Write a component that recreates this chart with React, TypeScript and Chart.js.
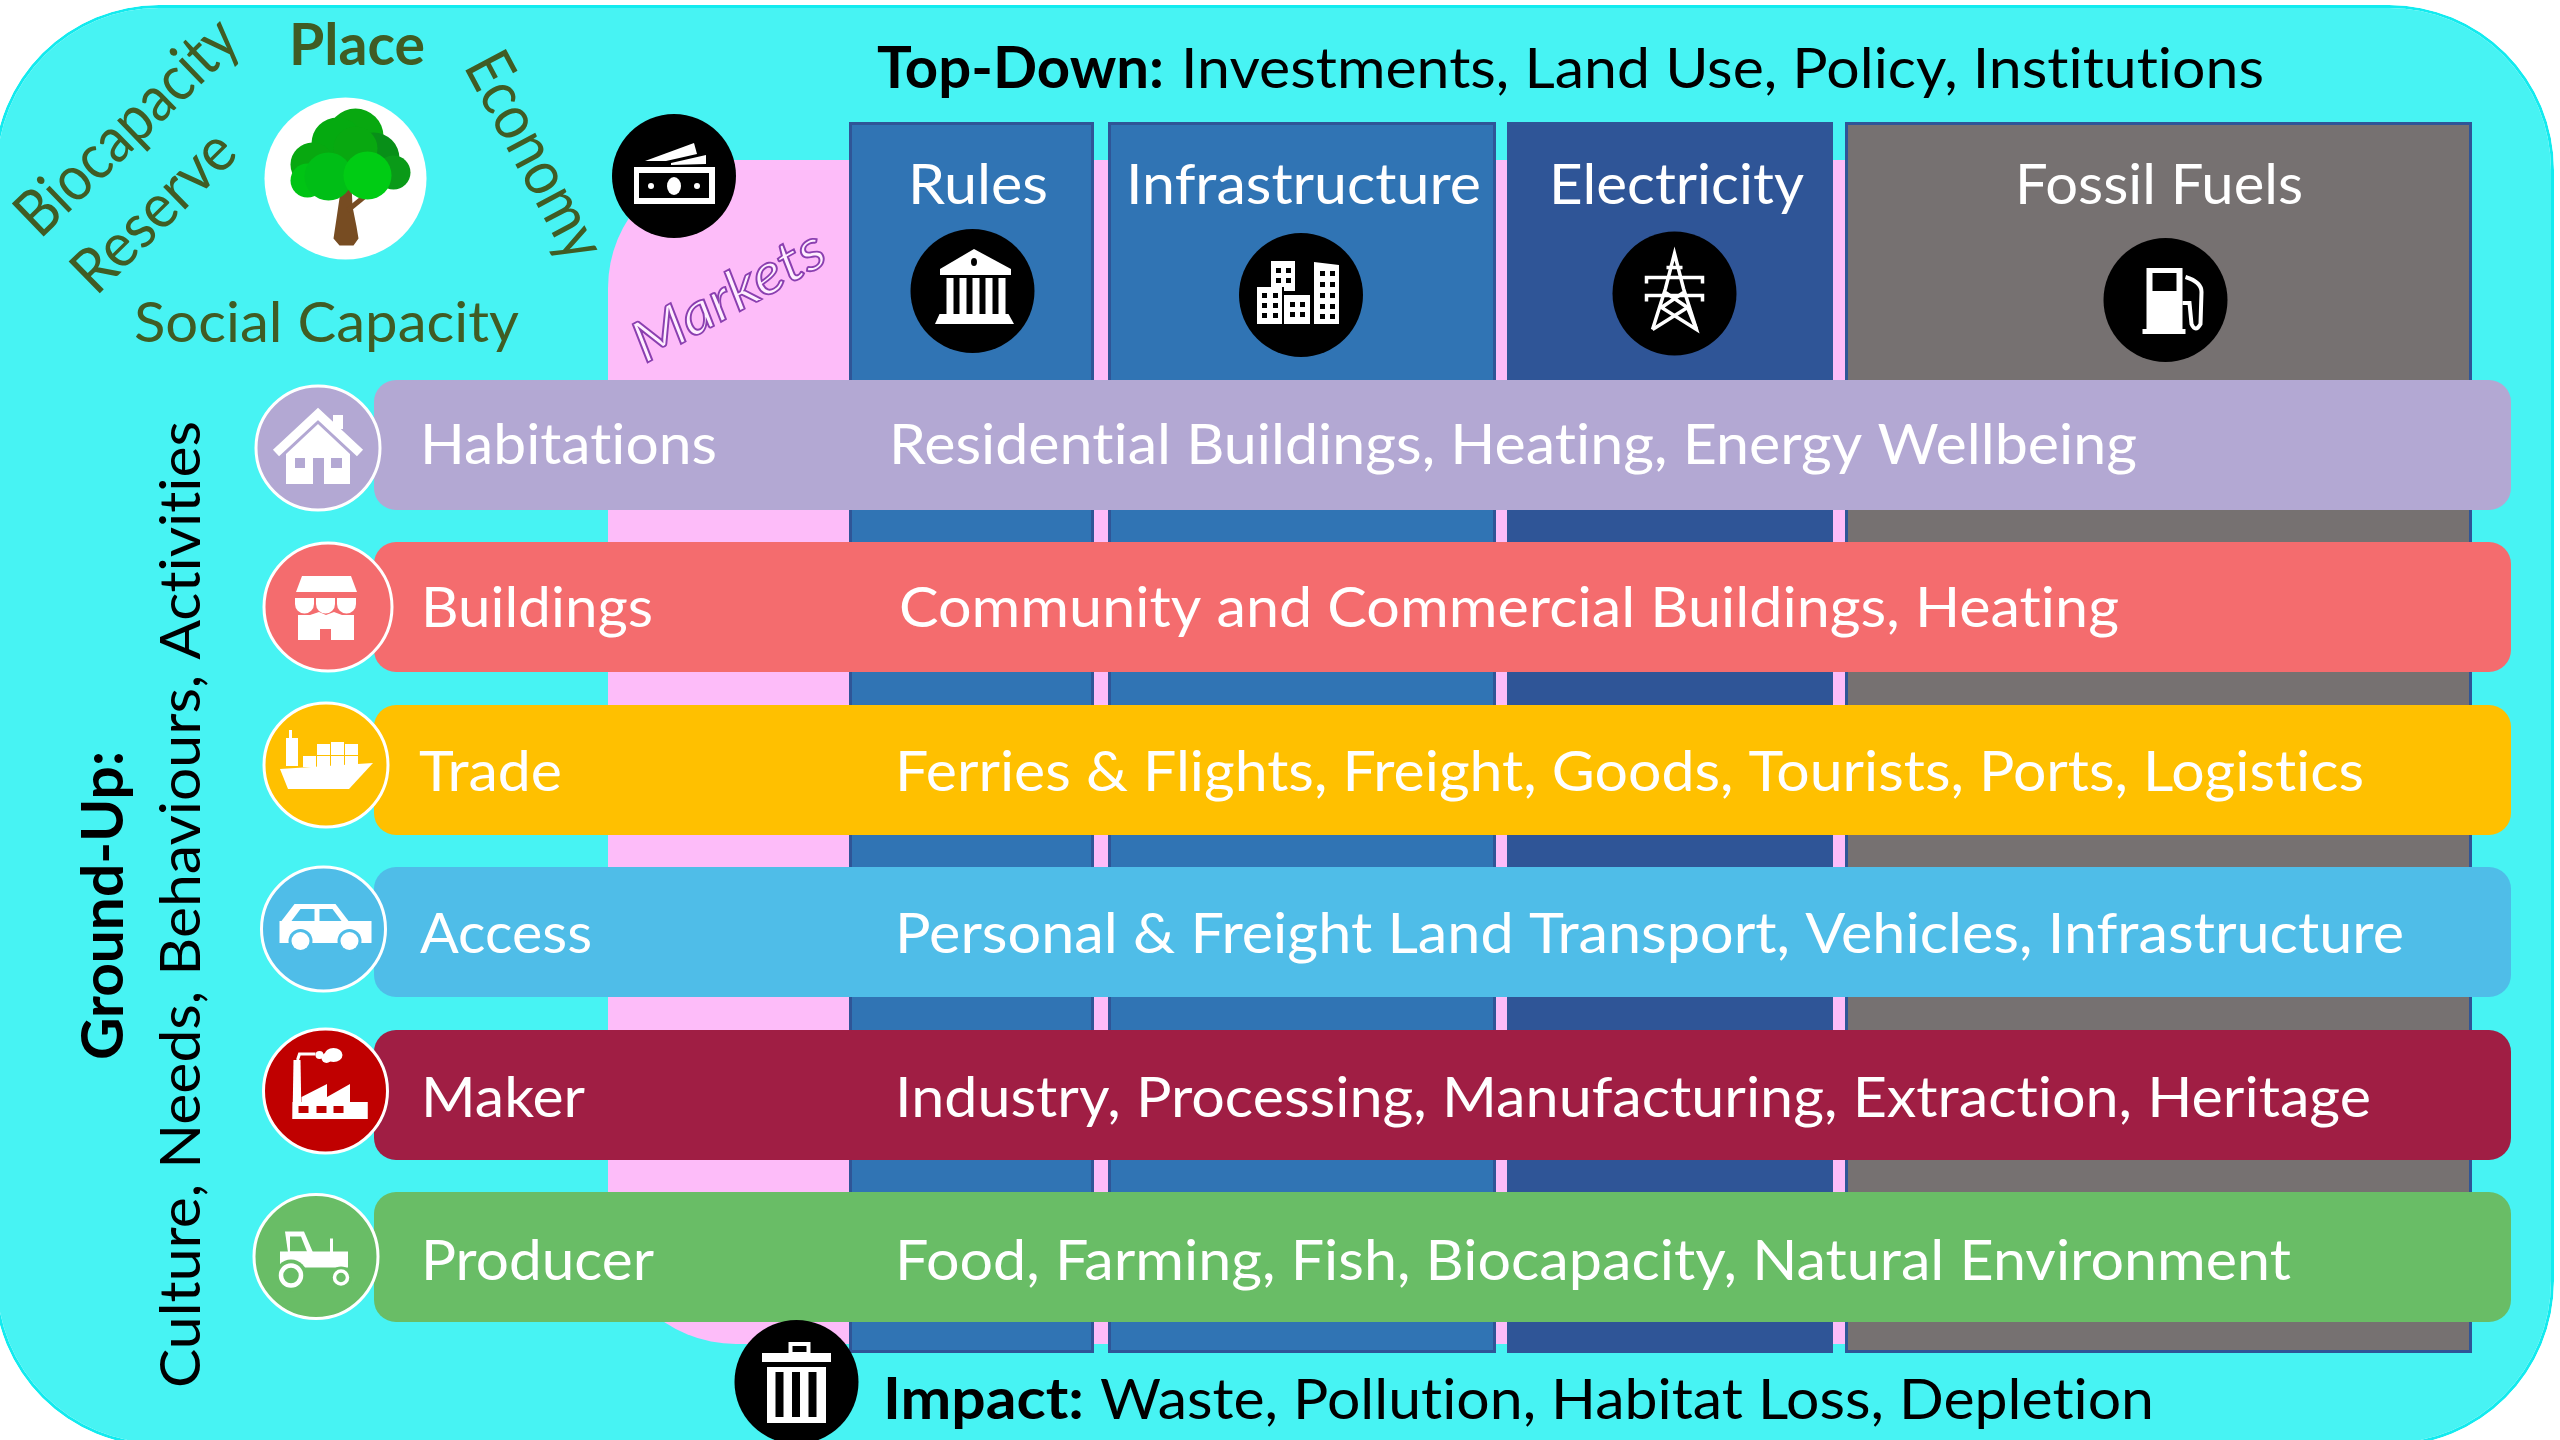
import React, { useEffect, useRef } from "react";
import { Chart, registerables } from "chart.js";

Chart.register(...registerables);

// ---- Data ----
const columnLabels = ["Rules", "Infrastructure", "Electricity", "Fossil Fuels"];
const columnStart = [849, 1108, 1507, 1845];
const columnEnd = [1094, 1496, 1833, 2472];
const columnTop = 122;
const columnBottom = 1353;

const rowLabels = ["Habitations", "Buildings", "Trade", "Access", "Maker", "Producer"];
const rowDescriptions = [
  "Residential Buildings, Heating, Energy Wellbeing",
  "Community and Commercial Buildings, Heating",
  "Ferries & Flights, Freight, Goods, Tourists, Ports, Logistics",
  "Personal & Freight Land Transport, Vehicles, Infrastructure",
  "Industry, Processing, Manufacturing, Extraction, Heritage",
  "Food, Farming, Fish, Biocapacity, Natural Environment",
];
const rowTop = [380, 542, 705, 867, 1030, 1192];
const rowBottom = [510, 672, 835, 997, 1160, 1322];
const rowStart = 374;
const rowEnd = 2511;

const panelRange = [-6, 2554];
const panelTop = 5;
const panelBottom = 1446;
const marketsRange = [608, 1845];
const marketsTop = 160;
const marketsBottom = 1344;

const rowCircleX = [318, 328, 326, 323.5, 325.5, 316];
const rowCircleY = [448, 607, 765, 929, 1091, 1256.5];
const rowCircleR = [62, 64, 62, 62, 62, 62];
const blackCircleNames = ["money", "bank", "city", "pylon", "pump", "trash"];
const blackCircleX = [674, 972.5, 1301, 1674.5, 2165.5, 796.5];
const blackCircleY = [176, 291, 295, 293.5, 300, 1382];
const blackCircleR = [62, 62, 62, 62, 62, 62];
const rowIconNames = ["house", "store", "ship", "car", "factory", "tractor"];
const placeCircle = { x: 345.5, y: 178.5, r: 81 };

// ---- Styles ----
const CYAN = "#47F3F3";
const CYAN_EDGE = "#12EBEF";
const PINK = "#FDBCF9";
const COLUMN_COLORS = ["#3074B4", "#3074B4", "#2F5597", "#767171"];
const ROW_COLORS = ["#B3A8D3", "#F46C6E", "#FFC000", "#4FBDE8", "#A01E44", "#69BD66"];
const CIRCLE_COLORS = ["#B3A8D3", "#F46C6E", "#FFC000", "#4FBDE8", "#C00000", "#69BD66"];
const GREEN_TEXT = "#405C24";
const SIZE = 56.5;

type C = CanvasRenderingContext2D;
type Pt = [number, number];

function poly(c: C, pts: Pt[], fill: string) {
  c.beginPath();
  pts.forEach(([x, y], i) => (i ? c.lineTo(x, y) : c.moveTo(x, y)));
  c.closePath();
  c.fillStyle = fill;
  c.fill();
}
function box(c: C, x: number, y: number, w: number, h: number, fill: string) {
  c.fillStyle = fill;
  c.fillRect(x, y, w, h);
}
function dot(c: C, x: number, y: number, r: number, fill: string, ry = r) {
  c.beginPath();
  c.ellipse(x, y, r, ry, 0, 0, Math.PI * 2);
  c.fillStyle = fill;
  c.fill();
}
function line(c: C, pts: Pt[], w: number, color: string) {
  c.beginPath();
  pts.forEach(([x, y], i) => (i ? c.lineTo(x, y) : c.moveTo(x, y)));
  c.lineWidth = w;
  c.strokeStyle = color;
  c.stroke();
}

const W = "#FFFFFF";
const K = "#000000";

const ICONS: Record<string, (c: C, bg: string) => void> = {
  money(c) {
    box(c, -40, -9, 81, 37, W);
    box(c, -35, -3, 70, 25, K);
    dot(c, 0, 10, 7, W, 9);
    dot(c, -23, 10, 3, W);
    dot(c, 23, 10, 3, W);
    poly(c, [[-29, -15], [20, -33], [23, -22], [-8, -15]], W);
    poly(c, [[-3, -13], [32, -21], [32, -12], [-3, -11]], W);
  },
  bank(c) {
    poly(c, [[1.5, -42], [38.5, -22], [38.5, -16], [-32.5, -16], [-32.5, -22]], W);
    dot(c, 1.5, -29, 3, K, 4);
    [-26, -13, 0, 13, 26].forEach((x) => box(c, x, -13, 7, 36, W));
    poly(c, [[-33, 23], [36, 23], [41.5, 33], [-37.5, 33]], W);
  },
  city(c) {
    poly(c, [[-30, -34], [-6, -34], [-6, -4], [-17, -4], [-17, -8], [-30, -8]], W);
    box(c, -44, -8, 25, 37, W);
    box(c, -17, 0, 26, 29, W);
    poly(c, [[13, -33], [38, -30], [38, 29], [13, 29]], W);
    [-25, -15].forEach((x) => [-27, -17].forEach((y) => box(c, x, y, 5, 5, K)));
    [-39, -28].forEach((x) => [-2, 8, 18].forEach((y) => box(c, x, y, 5, 5, K)));
    [-11, -1].forEach((x) => [7, 17].forEach((y) => box(c, x, y, 5, 5, K)));
    [19, 29].forEach((x) => [-24, -13, -2, 9, 19].forEach((y) => box(c, x, y, 5, 5, K)));
  },
  pylon(c) {
    const s = 3.5;
    line(c, [[-22, 36], [-9, -5], [0, -40], [9, -5], [22, 36], [-13, 14], [9, -1]], s, W);
    line(c, [[22, 36], [13, 14], [-9, -1]], s, W);
    line(c, [[-22, 36], [13, 14]], s, W);
    line(c, [[-28, -10], [-28, -16], [28, -16], [28, -10]], s, W);
    line(c, [[-28, 8], [-28, 2], [28, 2], [28, 8]], s, W);
    line(c, [[-8, -26], [8, -26]], s, W);
  },
  pump(c) {
    box(c, -19, -32, 36, 61, W);
    box(c, -13, -27, 24, 18, K);
    box(c, -23, 29, 43, 5, W);
    c.beginPath();
    c.moveTo(20, -23);
    c.quadraticCurveTo(36, -18, 36, -8);
    c.lineTo(35, 24);
    c.quadraticCurveTo(30, 33, 26, 24);
    c.lineTo(24, 3);
    c.lineTo(17, 3);
    c.lineWidth = 4;
    c.strokeStyle = W;
    c.stroke();
  },
  trash(c) {
    c.lineWidth = 4;
    c.strokeStyle = W;
    c.strokeRect(-6, -38, 18, 10);
    box(c, -34.5, -29, 69, 9, W);
    box(c, -29.5, -15, 59, 56, W);
    [-21, -4.5, 12].forEach((x) => box(c, x, -10, 8, 45, K));
  },
  house(c, bg) {
    c.lineJoin = "miter";
    box(c, 15, -33, 10, 14, W);
    line(c, [[-42, 5], [0, -34], [42, 5]], 9, W);
    poly(c, [[-32, 36], [-32, 6], [0, -24], [32, 6], [32, 36]], W);
    box(c, -23, 10, 10, 10, bg);
    box(c, 13, 10, 11, 10, bg);
    box(c, -5, 10, 11, 26, bg);
  },
  store(c, bg) {
    poly(c, [[-26, -31], [23, -31], [29, -15], [-32, -15]], W);
    [-33, -12, 9].forEach((x) => {
      c.beginPath();
      c.moveTo(x, -9);
      c.lineTo(x + 19, -9);
      c.lineTo(x + 19, -3);
      c.arc(x + 9.5, -3, 9.5, 0, Math.PI);
      c.closePath();
      c.fillStyle = W;
      c.fill();
    });
    poly(c, [[-30, 8], [-18, 8], [-9, 5], [-2, 8], [6, 5], [14, 8], [26, 8], [26, 33], [-30, 33]], W);
    box(c, -8, 22, 11, 11, bg);
  },
  ship(c) {
    poly(c, [[-46, 4], [47, -2], [23, 24], [-38, 24]], W);
    box(c, -40, -27, 12, 28, W);
    box(c, -37, -35, 3, 10, W);
    [-23, -9, 5, 19].forEach((x) => box(c, x, -9, 13, 11, W));
    [-9, 5, 19].forEach((x) => box(c, x, -21, 13, 11, W));
    box(c, 5, -23, 13, 12, W);
  },
  car(c, bg) {
    poly(c, [[-29, -25], [12, -25], [25, -8], [-42, -8]], W);
    poly(c, [[-23, -20], [-9, -20], [-9, -8], [-32, -8]], bg);
    poly(c, [[-4, -20], [9, -20], [18, -8], [-4, -8]], bg);
    box(c, -44, -8, 92, 22, W);
    [[-23, 12], [26, 12]].forEach(([x, y]) => {
      dot(c, x, y, 12, bg);
      dot(c, x, y, 9, W);
    });
  },
  factory(c, bg) {
    poly(c, [[-32, -31], [-25, -31], [-24, 28], [-33, 28]], W);
    poly(c, [[-24, 6], [1.5, -7], [1.5, 6], [24.5, -7], [24.5, 11], [42, 11], [42, 28], [-24, 28]], W);
    box(c, -33, 11, 75, 17, W);
    [-27, -9, 8].forEach((x) => box(c, x, 15, 10, 7, bg));
    dot(c, 8, -36, 9, W, 7);
    dot(c, 1, -33, 5, W);
    dot(c, -6, -36, 4, W);
    line(c, [[-28, -31], [-26, -37], [-10, -37]], 3, W);
  },
  tractor(c, bg) {
    poly(c, [[-31, -25], [-12, -25], [-3, -4], [-28, -4]], W);
    poly(c, [[-26, -20], [-15, -20], [-9, -5], [-26, -5]], bg);
    box(c, -36, -5, 68, 16, W);
    box(c, 14, -18, 3, 14, W);
    dot(c, -25, 19, 16, bg);
    dot(c, 25, 21, 11, bg);
    c.beginPath();
    c.arc(-25, 19, 10, 0, Math.PI * 2);
    c.lineWidth = 4.5;
    c.strokeStyle = W;
    c.stroke();
    c.beginPath();
    c.arc(25, 21, 6.5, 0, Math.PI * 2);
    c.lineWidth = 3.5;
    c.stroke();
  },
  tree(c) {
    const canopy: [number, number, number, string][] = [
      [10, -42, 28, "#08A810"],
      [-8, -35, 26, "#05AA10"],
      [28, -20, 26, "#088F18"],
      [-33, -14, 22, "#08A810"],
      [48, -6, 17, "#0A9A18"],
      [10, -30, 22, "#08A810"],
      [-38, 2, 17, "#00C414"],
      [-17, -2, 24, "#00BE16"],
      [22, -3, 24, "#00CC14"],
    ];
    poly(c, [[-4, 6], [6, 6], [7, 28], [11, 48], [13, 60], [8, 67], [-6, 67], [-12, 60], [-9, 40]], "#774C22");
    line(c, [[2, 32], [24, 14]], 5, "#774C22");
    canopy.forEach(([x, y, r, col]) => dot(c, x, y, r, col));
  },
};

// ---- Texts: [text, x-from, x-to, baseline, bold, colour] ----
type Seg = [string, number, number, number, boolean, string];
const columnText: [number, number][] = [[908, 1048], [1126, 1481], [1549, 1804], [2015, 2303]];
const rowLabelSpan: [number, number][] = [[420, 717], [421, 653], [419, 562], [420, 592], [421, 585], [421, 654]];
const rowDescSpan: [number, number][] = [[889, 2137], [899, 2119], [895, 2364], [895, 2404], [895, 2371], [895, 2291]];
const rowBaseline = [464, 627, 791, 953, 1117, 1280];
const flatText: Seg[] = [
  ["Top-Down:", 877, 1164, 88, true, K],
  ["Investments, Land Use, Policy, Institutions", 1181, 2264, 88, false, K],
  ["Impact:", 883, 1084, 1419, true, K],
  ["Waste, Pollution, Habitat Loss, Depletion", 1100, 2154, 1419, false, K],
  ["Place", 289, 425, 65, true, GREEN_TEXT],
  ["Social Capacity", 134, 519, 342, false, GREEN_TEXT],
];
// [text, x, y, rotation°, length, bold, colour, font size]
const angledText: [string, number, number, number, number, boolean, string, number][] = [
  ["Culture, Needs, Behaviours, Activities", 200, 1388, -90, 967, false, K, SIZE],
  ["Ground-Up:", 123, 1060, -90, 309, true, K, SIZE],
  ["Biocapacity", 40, 240, -44, 282, false, GREEN_TEXT, 64],
  ["Reserve", 96, 297, -44.5, 202, false, GREEN_TEXT, 62],
  ["Economy", 463, 66, 62, 226, false, GREEN_TEXT, 64],
];

function fitText(c: C, text: string, x: number, y: number, angle: number, len: number, bold: boolean, color: string, size = SIZE) {
  c.save();
  c.font = `${bold ? "bold " : ""}${size}px Lato`;
  (c as any).letterSpacing = "0.01px";
  c.textBaseline = "alphabetic";
  c.textAlign = "left";
  c.translate(x, y);
  c.rotate((angle * Math.PI) / 180);
  c.scale(len / c.measureText(text).width, 1);
  c.fillStyle = color;
  c.fillText(text, 0, 0);
  c.restore();
}

const overlayPlugin = {
  id: "overlay",
  afterDatasetsDraw(chart: any) {
    const c: C = chart.ctx;
    const { x: sx, y: sy } = chart.scales;
    const px = (v: number) => sx.getPixelForValue(v);
    const py = (v: number) => sy.getPixelForValue(v);

    flatText.forEach(([t, a, b, y, bold, col]) => fitText(c, t, px(a), py(y), 0, px(b) - px(a), bold, col));
    angledText.forEach(([t, x, y, ang, len, bold, col, size]) => fitText(c, t, px(x), py(y), ang, len, bold, col, size));
    columnLabels.forEach((t, i) => {
      const [a, b] = columnText[i];
      fitText(c, t, px(a), py(204), 0, px(b) - px(a), false, W);
    });
    rowLabels.forEach((t, i) => {
      const [a, b] = rowLabelSpan[i];
      fitText(c, t, px(a), py(rowBaseline[i]), 0, px(b) - px(a), false, W);
      const [d, e] = rowDescSpan[i];
      fitText(c, rowDescriptions[i], px(d), py(rowBaseline[i]), 0, px(e) - px(d), false, W);
    });

    // outlined "Markets"
    c.save();
    c.font = `italic 57px Lato`;
    (c as any).letterSpacing = "0.01px";
    c.translate(px(645), py(364));
    c.rotate((-29 * Math.PI) / 180);
    c.scale(212 / c.measureText("Markets").width, 1);
    c.fillStyle = "#FFEFFF";
    c.fillText("Markets", 0, 0);
    c.lineWidth = 1.8;
    c.strokeStyle = "#8A3FB0";
    c.strokeText("Markets", 0, 0);
    c.restore();

    const draw = (name: string, el: any, bg: string) => {
      c.save();
      c.translate(el.x, el.y);
      ICONS[name](c, bg);
      c.restore();
    };
    const metas = chart.data.datasets.map((_: any, i: number) => chart.getDatasetMeta(i));
    const byLabel = (l: string) => metas.find((m: any) => m.label === l);
    byLabel("Row circles").data.forEach((el: any, i: number) => draw(rowIconNames[i], el, CIRCLE_COLORS[i]));
    byLabel("Top-down circles").data.forEach((el: any, i: number) => draw(blackCircleNames[i], el, K));
    byLabel("Place circle").data.forEach((el: any) => draw("tree", el, W));
  },
};

const mid = (a: number, b: number) => (a + b) / 2;
const band = {
  type: "bar",
  indexAxis: "y",
  grouped: false,
  barPercentage: 100000,
  categoryPercentage: 1,
  borderSkipped: false,
  inflateAmount: 0,
};

export default function App() {
  const ref = useRef<HTMLCanvasElement>(null);
  useEffect(() => {
    const chart = new Chart(ref.current!, {
      type: "bar",
      data: {
        datasets: [
          {
            ...band,
            label: "Panel",
            order: 60,
            data: [{ x: panelRange, y: mid(panelTop, panelBottom) }],
            maxBarThickness: panelBottom - panelTop,
            backgroundColor: CYAN,
            borderColor: CYAN_EDGE,
            borderWidth: 3,
            borderRadius: 165,
          },
          {
            ...band,
            label: "Markets",
            order: 50,
            data: [{ x: marketsRange, y: mid(marketsTop, marketsBottom) }],
            maxBarThickness: marketsBottom - marketsTop,
            backgroundColor: PINK,
            borderRadius: { topLeft: 128, bottomLeft: 128, topRight: 0, bottomRight: 0 },
          },
          {
            ...band,
            label: "Top-down columns",
            order: 40,
            data: columnLabels.map((_, i) => ({
              x: [columnStart[i], columnEnd[i]],
              y: mid(columnTop, columnBottom),
            })),
            maxBarThickness: columnBottom - columnTop,
            backgroundColor: COLUMN_COLORS,
            borderColor: "#2F5597",
            borderWidth: 3,
          },
          {
            ...band,
            label: "Ground-up rows",
            order: 30,
            data: rowLabels.map((_, i) => ({ x: [rowStart, rowEnd], y: mid(rowTop[i], rowBottom[i]) })),
            maxBarThickness: rowBottom[0] - rowTop[0],
            backgroundColor: ROW_COLORS,
            borderRadius: 22,
          },
          {
            type: "bubble",
            label: "Row circles",
            order: 20,
            clip: false,
            data: rowCircleX.map((x, i) => ({ x, y: rowCircleY[i], r: rowCircleR[i] })),
            backgroundColor: CIRCLE_COLORS,
            borderColor: W,
            borderWidth: 3,
          },
          {
            type: "bubble",
            label: "Top-down circles",
            order: 10,
            clip: false,
            data: blackCircleX.map((x, i) => ({ x, y: blackCircleY[i], r: blackCircleR[i] })),
            backgroundColor: K,
            borderWidth: 0,
          },
          {
            type: "bubble",
            label: "Place circle",
            order: 5,
            clip: false,
            data: [{ x: placeCircle.x, y: placeCircle.y, r: placeCircle.r }],
            backgroundColor: W,
            borderWidth: 0,
          },
        ],
      } as any,
      options: {
        animation: false,
        responsive: false,
        indexAxis: "y",
        events: [],
        layout: { padding: 0, autoPadding: false },
        plugins: { legend: { display: false }, tooltip: { enabled: false }, title: { display: false } },
        scales: {
          x: { type: "linear", min: 0, max: 2560, display: false, offset: false },
          y: { type: "linear", min: 0, max: 1440, reverse: true, display: false, offset: false },
        },
      } as any,
      plugins: [overlayPlugin as any],
    });
    return () => chart.destroy();
  }, []);
  return (
    <div style={{ position: "absolute", left: 0, top: 0, width: 2560, height: 1440, background: "#FFFFFF" }}>
      <canvas ref={ref} width={2560} height={1440} style={{ display: "block" }} />
    </div>
  );
}
